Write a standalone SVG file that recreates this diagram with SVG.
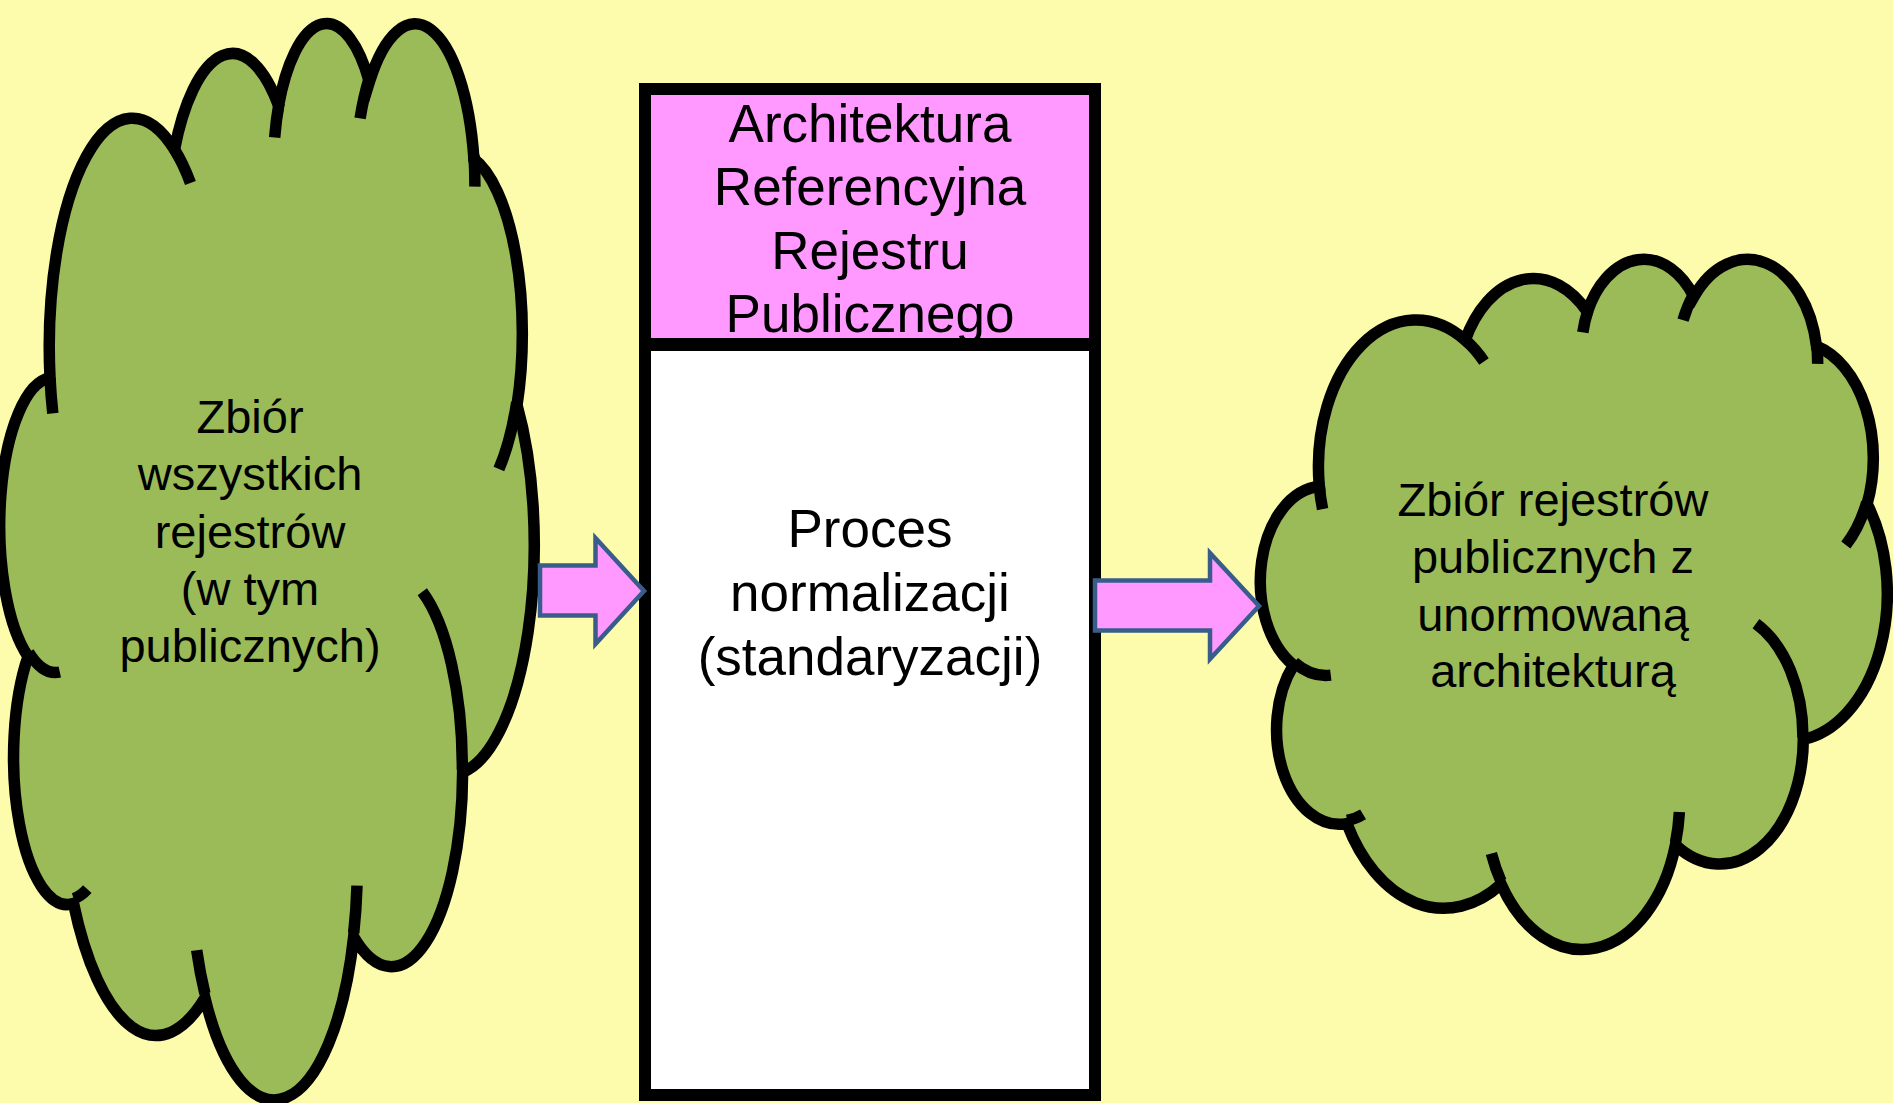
<svg xmlns="http://www.w3.org/2000/svg" xmlns:xlink="http://www.w3.org/1999/xlink" width="1893" height="1103" viewBox="0 0 1893 1103">
  <style>
    .bg { fill: #FCFCAC; }
    .cloud-fill { fill: #9BBB59; stroke: #000; stroke-width: 11.5; stroke-linejoin: miter; }
    .cloud-hook { fill: none; stroke: #000; stroke-width: 11.5; stroke-linecap: butt; }
    .label { font-family: "Liberation Sans", Arial, sans-serif; fill: #000; text-anchor: middle; }
    .cloud-text { font-size: 47px; }
    .box-text { font-size: 53px; }
    .frame { fill: none; stroke: #000; stroke-width: 12; }
    .arrow { fill: #FF99FF; stroke: #385D8A; stroke-width: 4.5; stroke-linejoin: miter; }
  </style>
  <defs>
    <!-- cloud outline in a 43200 x 43200 unit box -->
    <path id="cloudBody" vector-effect="non-scaling-stroke" d="M3900,14370 A6753,9190 0 0 1 14005,5202 A5333,7267 0 0 1 22457,3434 A4365,5945 0 0 1 29835,2483 A4857,6595 0 0 1 38320,5578 A5333,7273 0 0 1 41821,15462 A6775,9220 0 0 1 37405,30203 A5785,7867 0 0 1 28556,36813 A6752,9215 0 0 1 16481,39265 A7720,10543 0 0 1 5807,35472 A4360,5918 0 0 1 2115,25551 A4345,5945 0 0 1 3900,14370 Z"/>
    <!-- short inner arcs continuing each lobe -->
    <path id="cloudHooks" vector-effect="non-scaling-stroke" d="M4693,26177 A4345,5945 0 0 1 2160,25380 M6928,34899 A4360,5918 0 0 1 5820,35280 M16478,39090 A6752,9215 0 0 1 15810,37349 M28827,34751 A6752,9215 0 0 1 28560,36660 M34129,22954 A5785,7867 0 0 1 37381,30090 M41798,15354 A5333,7273 0 0 1 40350,18031 M38324,5426 A4857,6595 0 0 1 38400,6690 M29078,3952 A4857,6595 0 0 1 29820,2339 M22141,4720 A4365,5945 0 0 1 22500,3330 M14000,5192 A6753,9190 0 0 1 15302,6543 M4127,15789 A6753,9190 0 0 1 3900,14371"/>
  </defs>

  <rect class="bg" x="0" y="0" width="1893" height="1103"/>

  <!-- left cloud: all registers -->
  <g id="cloud-all-registers">
    <g transform="translate(2,20) scale(0.0123148,0.0249074)">
      <use xlink:href="#cloudBody" class="cloud-fill"/>
      <use xlink:href="#cloudHooks" class="cloud-hook"/>
    </g>
    <text class="label cloud-text" x="250" y="433">Zbiór</text>
    <text class="label cloud-text" x="250" y="490">wszystkich</text>
    <text class="label cloud-text" x="250" y="548">rejestrów</text>
    <text class="label cloud-text" x="250" y="605">(w tym</text>
    <text class="label cloud-text" x="250" y="662">publicznych)</text>
  </g>

  <!-- central box: reference architecture + normalization process -->
  <g id="normalization-box">
    <rect x="645" y="89" width="450" height="255.5" fill="#FF99FF"/>
    <rect x="645" y="344.5" width="450" height="750.5" fill="#FFFFFF"/>
    <text class="label box-text" x="870" y="142">Architektura</text>
    <text class="label box-text" x="870" y="205">Referencyjna</text>
    <text class="label box-text" x="870" y="269">Rejestru</text>
    <text class="label box-text" x="870" y="332">Publicznego</text>
    <text class="label box-text" x="870" y="547">Proces</text>
    <text class="label box-text" x="870" y="611">normalizacji</text>
    <text class="label box-text" x="870" y="675">(standaryzacji)</text>
    <rect class="frame" x="645" y="89" width="450" height="1006"/>
    <line x1="645" y1="344.5" x2="1095" y2="344.5" stroke="#000" stroke-width="13"/>
  </g>

  <!-- right cloud: normalized public registers -->
  <g id="cloud-normalized-registers">
    <g transform="translate(1263,257) scale(0.0144444,0.0159722)">
      <use xlink:href="#cloudBody" class="cloud-fill"/>
      <use xlink:href="#cloudHooks" class="cloud-hook"/>
    </g>
    <text class="label cloud-text" x="1553" y="516">Zbiór rejestrów</text>
    <text class="label cloud-text" x="1553" y="573">publicznych z</text>
    <text class="label cloud-text" x="1553" y="631">unormowaną</text>
    <text class="label cloud-text" x="1553" y="687">architekturą</text>
  </g>

  <!-- block arrows -->
  <g id="connectors">
    <path class="arrow" d="M540,565.5 H595.5 V538 L644,591 L595.5,644 V615.5 H540 Z"/>
    <path class="arrow" d="M1095,580.5 H1210 V553 L1259,606 L1210,659 V630.5 H1095 Z"/>
  </g>
</svg>
